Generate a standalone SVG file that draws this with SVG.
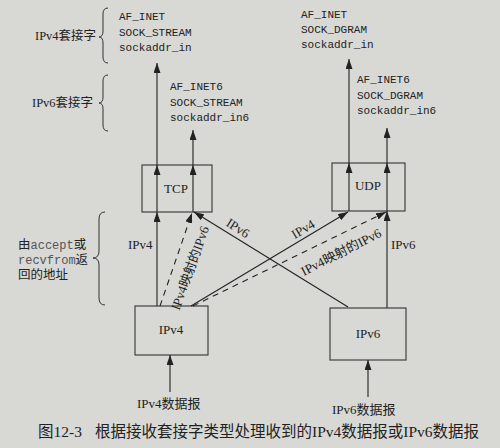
<svg xmlns="http://www.w3.org/2000/svg" width="500" height="448" viewBox="0 0 500 448">
<defs>
<marker id="ah" viewBox="0 0 10 7" refX="10" refY="3.5" markerWidth="10" markerHeight="7" orient="auto" markerUnits="userSpaceOnUse"><path d="M0,0 L10,3.5 L0,7 z" fill="#222"/></marker>
<style>
.box{fill:none;stroke:#333;stroke-width:1.1}
.ln{stroke:#222;stroke-width:1.1;fill:none}
.ar{stroke:#222;stroke-width:1.1;fill:none;marker-end:url(#ah)}
.da{stroke:#222;stroke-width:1.1;fill:none;stroke-dasharray:6,5;marker-end:url(#ah)}
.br{stroke:#333;stroke-width:1;fill:none}
.mono{font-family:"Liberation Mono","DejaVu Sans Mono",monospace;font-size:11px;fill:#222}
.ser{font-family:"Liberation Serif","Noto Sans CJK SC",serif;font-size:13px;fill:#222}
.cj{font-family:"Liberation Serif","Noto Sans CJK SC",serif;font-size:12.5px;fill:#222}
.cap{font-family:"Liberation Serif","Noto Sans CJK SC",serif;font-size:15.5px;fill:#222}
.m12{font-family:"Liberation Mono","DejaVu Sans Mono",monospace;font-size:12px;fill:#555}
</style>
</defs>
<rect width="500" height="448" fill="#d8d8d5"/>

<g id="ipv4-socket-label">
<text class="cj" x="35" y="40">IPv4套接字</text>
<path class="br" d="M108,8 Q103,8 103,14 L103,31 Q103,37 99,37 Q103,37 103,43 L103,57 Q103,63 108,63"/>
</g>
<g id="ipv6-socket-label">
<text class="cj" x="32" y="107">IPv6套接字</text>
<path class="br" d="M108,75 Q103,75 103,81 L103,97 Q103,103 99,103 Q103,103 103,109 L103,125 Q103,131 108,131"/>
</g>
<g id="addr-label">
<text class="cj" x="18" y="249">由<tspan class="m12">accept</tspan>或</text>
<text class="cj" x="18" y="264"><tspan class="m12">recvfrom</tspan>返</text>
<text class="cj" x="18" y="279">回的地址</text>
<path class="br" d="M105,212 Q99,212 99,219 L99,251 Q99,258 93,258 Q99,258 99,265 L99,298 Q99,305 105,305"/>
</g>

<g id="tcp-v4-info">
<text class="mono" x="119" y="20">AF_INET</text>
<text class="mono" x="119" y="36">SOCK_STREAM</text>
<text class="mono" x="119" y="51">sockaddr_in</text>
</g>
<g id="tcp-v6-info">
<text class="mono" x="170" y="90">AF_INET6</text>
<text class="mono" x="170" y="106">SOCK_STREAM</text>
<text class="mono" x="170" y="121">sockaddr_in6</text>
</g>
<g id="udp-v4-info">
<text class="mono" x="301" y="18">AF_INET</text>
<text class="mono" x="301" y="33">SOCK_DGRAM</text>
<text class="mono" x="301" y="48">sockaddr_in</text>
</g>
<g id="udp-v6-info">
<text class="mono" x="357" y="83">AF_INET6</text>
<text class="mono" x="357" y="99">SOCK_DGRAM</text>
<text class="mono" x="357" y="114">sockaddr_in6</text>
</g>

<g id="tcp">
<rect class="box" x="142" y="165" width="70" height="47"/>
<text class="ser" x="176" y="193" text-anchor="middle">TCP</text>
</g>
<g id="udp">
<rect class="box" x="332" y="163" width="73" height="48"/>
<text class="ser" x="368" y="190" text-anchor="middle">UDP</text>
</g>
<g id="ipv4">
<rect class="box" x="135" y="306" width="73" height="49"/>
<text class="ser" x="171" y="334" text-anchor="middle">IPv4</text>
</g>
<g id="ipv6">
<rect class="box" x="330" y="308" width="76" height="52"/>
<text class="ser" x="368" y="338" text-anchor="middle">IPv6</text>
</g>
<g id="ipv4-dgram">
<text class="ser" x="137" y="408">IPv4数据报</text>
</g>
<g id="ipv6-dgram">
<text class="ser" x="332" y="414">IPv6数据报</text>
</g>

<g id="connectors">
<line class="ar" x1="170" y1="392" x2="170" y2="355"/>
<line class="ar" x1="368" y1="397" x2="368" y2="360"/>
<line class="ar" x1="157" y1="306" x2="157" y2="212"/>
<line class="ar" x1="157" y1="212" x2="157" y2="165"/>
<line class="ar" x1="157" y1="165" x2="157" y2="63"/>
<line class="ar" x1="193" y1="212" x2="193" y2="165"/>
<line class="ar" x1="193" y1="165" x2="193" y2="130"/>
<line class="ar" x1="348" y1="307" x2="194" y2="212"/>
<line class="da" x1="160" y1="306" x2="192" y2="213"/>
<line class="ar" x1="191" y1="306" x2="348" y2="212"/>
<line class="da" x1="193" y1="306" x2="386" y2="212"/>
<line class="ar" x1="387" y1="308" x2="387" y2="211"/>
<line class="ar" x1="349" y1="211" x2="349" y2="163"/>
<line class="ar" x1="349" y1="163" x2="349" y2="59"/>
<line class="ar" x1="387" y1="211" x2="387" y2="163"/>
<line class="ar" x1="387" y1="163" x2="387" y2="128"/>
<text class="ser" x="128" y="249">IPv4</text>
<text class="ser" x="391" y="249">IPv6</text>
<text class="ser" text-anchor="middle" transform="translate(238,228) rotate(32)" y="4.5">IPv6</text>
<text class="ser" text-anchor="middle" transform="translate(190,268) rotate(-70)" y="4.5">IPv4映射的IPv6</text>
<text class="ser" text-anchor="middle" transform="translate(303,229) rotate(-31)" y="4.5">IPv4</text>
<text class="ser" text-anchor="middle" transform="translate(341,252) rotate(-27)" y="4.5">IPv4映射的IPv6</text>
</g>

<g id="caption">
<text class="cap" x="38" y="437">图12-3<tspan x="95">根据接收套接字类型处理收到的IPv4数据报或IPv6数据报</tspan></text>
</g>
</svg>
